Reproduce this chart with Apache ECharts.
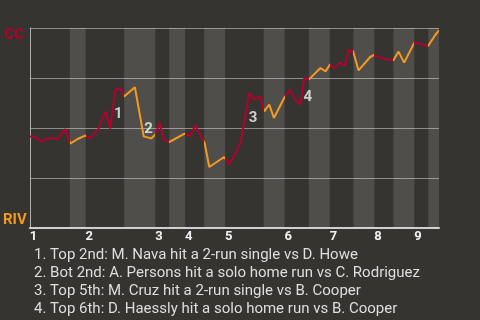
<!DOCTYPE html>
<html>
<head>
<meta charset="utf-8">
<script src="https://cdn.jsdelivr.net/npm/echarts@6/dist/echarts.min.js"></script>
<style>
html,body{margin:0;padding:0;background:#363431;}
#c{width:480px;height:320px;}
</style>
</head>
<body>
<div id="c"></div>
<script>
// Game progress (x) and CC win probability (y)
var progress = [0,1.1,2.5,3.6,6.1,7.6,8.7,10.3,11.9,12.9,14.7,16.3,17.3,18.4,19.4,20.3,22.6,24.5,26.1,27.0,27.9,28.8,30.0,33.3,34.3,35.6,37.6,38.6,41.8,42.9,44.1,45.4,47.2,48.2,49.5,50.4,51.5,52.5,54.7,56.0,57.0,58.2,59.0,60.0,62.5,63.6,64.6,65.5,66.8,67.7,68.6,69.5,70.7,73.2,74.0,75.4,76.8,78.2,79.3,80.5,82.7,83.9,85.6,87.2,88.0];
var winProb = [0.458,0.455,0.432,0.448,0.448,0.495,0.422,0.445,0.462,0.450,0.492,0.583,0.497,0.692,0.700,0.657,0.704,0.458,0.448,0.467,0.525,0.442,0.430,0.472,0.458,0.512,0.424,0.305,0.355,0.319,0.367,0.432,0.675,0.642,0.658,0.583,0.617,0.550,0.650,0.692,0.642,0.617,0.750,0.742,0.800,0.783,0.819,0.798,0.827,0.810,0.890,0.885,0.788,0.855,0.865,0.852,0.843,0.839,0.882,0.827,0.927,0.922,0.909,0.965,0.988];
// Half-inning boundaries (top halves = CC batting, bottom halves = RIV batting)
var halfBounds = [0,8.6,12.0,20.3,27.0,30.0,33.4,37.5,42.0,50.3,54.8,60.0,64.5,69.6,74.1,78.2,82.7,85.7,88];
var inningStarts = [0,12.0,27.0,33.4,42.0,54.8,64.5,74.1,82.7];
var inningLabels = ['1','2','3','4','5','6','7','8','9'];
var teamTop = 'CC', teamBottom = 'RIV';
var markerX = [19.06,25.53,48.0,59.79];
var markerY = [0.568,0.496,0.551,0.652];
var markerText = ['1','2','3','4'];
var notes = [
  '1. Top 2nd: M. Nava hit a 2-run single vs D. Howe',
  '2. Bot 2nd: A. Persons hit a solo home run vs C. Rodriguez',
  '3. Top 5th: M. Cruz hit a 2-run single vs B. Cooper',
  '4. Top 6th: D. Haessly hit a solo home run vs B. Cooper'
];

var RED = '#b3002d', ORANGE = '#f39a1f';
var lineData = progress.map(function(x,i){return [x, winProb[i]];});
var pieces = [], bands = [];
for (var i=0;i<halfBounds.length-1;i++){
  var p = {gt: halfBounds[i], lte: halfBounds[i+1], color: (i%2===0)?RED:ORANGE};
  if (i===0) { p = {gte: -1, lte: halfBounds[1], color: RED}; }
  pieces.push(p);
  if (i%2===1) bands.push([{xAxis: halfBounds[i]},{xAxis: halfBounds[i+1]}]);
}
var markerData = markerX.map(function(x,i){return [x, markerY[i], markerText[i]];});

var chart = echarts.init(document.getElementById('c'), null, {renderer:'canvas'});
chart.setOption({
  backgroundColor: '#363431',
  animation: false,
  textStyle: {fontFamily: 'Roboto'},
  title: {
    text: notes.join('\n'),
    left: 29, top: 241,
    textStyle: {fontFamily:'Roboto', fontSize: 15, fontWeight: 'normal', color: '#dedede', lineHeight: 18}
  },
  grid: {left: 28, right: 41, top: 28, height: 200},
  xAxis: {
    type: 'value', min: 0, max: 88,
    splitLine: {show: false},
    axisLine: {show: true, lineStyle: {color: '#cfcfcf', width: 2}},
    axisTick: {show: false},
    axisLabel: {
      customValues: inningStarts,
      formatter: function(v){ var k = inningStarts.indexOf(v); return k>=0 ? inningLabels[k] : ''; },
      align: 'left', margin: 2,
      color: '#f2f2f2', fontSize: 13, fontWeight: 'bold', fontFamily: 'Roboto'
    }
  },
  yAxis: [{
    type: 'value', min: 0, max: 1, interval: 0.25,
    splitLine: {show: true, lineStyle: {color: '#8c8c8c', width: 1}},
    axisLine: {show: true, lineStyle: {color: '#b0b0b0', width: 1}},
    axisTick: {show: false},
    axisLabel: {
      customValues: [1],
      formatter: function(){ return teamTop; },
      verticalAlign: 'top', margin: 6,
      color: RED, fontSize: 15, fontWeight: 'bold', fontFamily: 'Roboto'
    }
  },{
    type: 'value', min: 0, max: 1, position: 'left',
    splitLine: {show: false}, axisLine: {show: false}, axisTick: {show: false},
    axisLabel: {
      customValues: [0],
      formatter: function(){ return teamBottom; },
      verticalAlign: 'bottom', margin: 3,
      color: ORANGE, fontSize: 15, fontWeight: 'bold', fontFamily: 'Roboto'
    }
  }],
  visualMap: {
    type: 'piecewise', show: false, dimension: 0, seriesIndex: 0, pieces: pieces
  },
  series: [{
    type: 'line', data: lineData, symbol: 'none', smooth: false,
    lineStyle: {width: 2},
    z: 3,
    markArea: {silent: true, itemStyle: {color: 'rgba(255,255,255,0.13)'}, data: bands}
  },{
    type: 'scatter', data: markerData, symbolSize: 1, z: 4,
    itemStyle: {color: 'rgba(0,0,0,0)'},
    label: {
      show: true, position: 'inside',
      formatter: function(p){ return p.data[2]; },
      color: '#f4f4f4', fontSize: 15, fontWeight: 'bold', fontFamily: 'Roboto'
    }
  }]
});
</script>
</body>
</html>
